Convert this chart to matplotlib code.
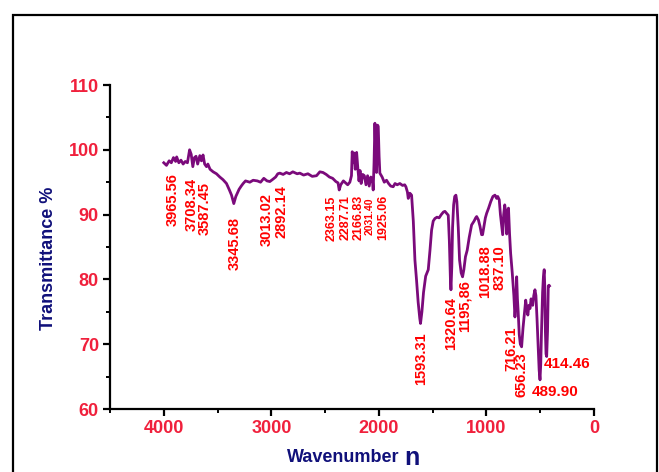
import matplotlib
matplotlib.use("Agg")
import matplotlib.pyplot as plt
from matplotlib.patches import Rectangle
from matplotlib.ticker import MultipleLocator

plt.rcParams['font.family'] = ['Liberation Sans', 'DejaVu Sans']

# FTIR spectrum (wavenumber cm-1, transmittance %)
wavenumber = [
    4000, 3975, 3950, 3930, 3910, 3890, 3880, 3860, 3840, 3820, 3800, 3780, 3760, 3745,
    3730, 3715, 3700, 3685, 3665, 3650, 3635, 3620, 3603, 3590, 3570, 3541, 3510, 3479,
    3450, 3417, 3390, 3370, 3349, 3330, 3300, 3280, 3262, 3240, 3200, 3169, 3130, 3100,
    3070, 3040, 3014, 2990, 2960, 2940, 2921, 2890, 2860, 2830, 2800, 2760, 2735, 2700,
    2660, 2620, 2580, 2549, 2520, 2490, 2460, 2430, 2400, 2380, 2369, 2355, 2330, 2310,
    2290, 2270, 2255, 2248, 2240, 2230, 2220, 2207, 2195, 2185, 2175, 2165, 2150, 2135,
    2120, 2105, 2090, 2075, 2060, 2053, 2045, 2037, 2030, 2022, 2012, 2006, 1998, 1991,
    1970, 1950, 1929, 1910, 1890, 1867, 1850, 1830, 1805, 1780, 1760, 1749, 1735, 1727,
    1712, 1696, 1680, 1665, 1650, 1635, 1620, 1613, 1600, 1585, 1565, 1541, 1525, 1510,
    1495, 1479, 1460, 1440, 1420, 1400, 1386, 1370, 1355, 1345, 1335, 1330, 1322, 1315,
    1305, 1295, 1284, 1275, 1262, 1250, 1235, 1222, 1210, 1195, 1179, 1160, 1138, 1115,
    1100, 1091, 1075, 1060, 1045, 1036, 1025, 1010, 998, 980, 960, 940, 921, 905, 895,
    881, 870, 860, 849, 840, 830, 822, 812, 805, 795, 785, 775, 760, 745, 735, 728, 719,
    712, 705, 695, 685, 673, 660, 645, 635, 625, 615, 605, 595, 585, 570, 560, 549, 540,
    530, 520, 510, 502, 495, 488, 478, 470, 463, 458, 452, 446, 440, 432, 425, 418, 414,
]
transmittance = [
    98.0, 97.6, 98.3, 98.0, 98.8, 98.2, 98.9, 98.0, 98.4, 97.8, 98.2, 98.0, 100.0, 99.3,
    97.4, 98.8, 99.0, 97.8, 99.1, 98.3, 99.2, 97.8, 97.4, 97.8, 97.0, 96.6, 96.3, 95.8,
    95.4, 94.8, 93.8, 93.0, 91.7, 92.8, 93.9, 94.4, 94.8, 95.2, 95.0, 95.3, 95.2, 95.0,
    95.6, 95.2, 95.1, 95.4, 95.8, 96.3, 96.4, 96.2, 96.5, 96.3, 96.6, 96.3, 96.4, 96.1,
    96.3, 95.9, 96.0, 96.6, 96.5, 96.2, 95.8, 95.6, 95.1, 94.9, 93.8, 94.6, 95.2, 94.9,
    94.6, 95.0, 96.0, 99.7, 98.0, 99.5, 97.0, 99.6, 97.0, 95.2, 96.8, 94.8, 96.2, 96.0,
    94.6, 96.0, 94.4, 95.8, 95.4, 93.8, 98.0, 104.1, 100.0, 96.5, 103.8, 103.6, 99.0, 96.4,
    95.8, 95.0, 95.3, 94.8, 94.4, 94.3, 94.8, 94.6, 94.8, 94.5, 94.6, 94.3, 93.5, 92.5,
    93.3, 93.0, 89.0, 83.0, 79.9, 76.5, 74.0, 73.2, 75.0, 78.0, 80.5, 81.5, 84.5, 87.6,
    89.0, 89.4, 89.6, 89.5, 90.0, 90.4, 90.5, 90.2, 89.9, 86.0, 80.0, 78.4, 82.0, 88.0,
    91.5, 92.8, 93.0, 92.0, 88.0, 83.0, 81.0, 80.4, 81.5, 83.5, 84.5, 86.5, 88.4, 89.0,
    89.5, 89.7, 89.2, 88.2, 86.9, 86.9, 88.0, 89.5, 90.2, 91.0, 92.0, 92.8, 93.0, 92.5, 92.8,
    92.3, 90.0, 88.5, 86.9, 90.0, 91.5, 90.5, 87.0, 90.5, 91.0, 87.0, 84.0, 81.0, 77.5, 74.2, 76.0, 80.4,
    77.0, 75.0, 71.5, 70.0, 69.6, 72.5, 75.0, 76.8, 75.5, 74.5, 76.0, 75.5, 77.0, 76.0, 77.5, 78.4, 77.5,
    74.0, 70.0, 66.0, 64.5, 67.0, 72.0, 78.0, 80.5, 81.5, 79.0, 72.0, 68.5, 68.1, 72.0, 79.0, 79.1, 79.0,
]

# peak labels: text, x, y (top of the rotated text), font size
peak_text = ["3965.56", "3708.34", "3587.45", "3345.68", "3013.02", "2892.14",
             "2363.15", "2287.71", "2166.83", "2031.40", "1925.06", "1593.31",
             "1320.64", "1195,86", "1018.88", "837.10", "716.21", "656.23"]
peak_x = [3916, 3742, 3619, 3340, 3042, 2902, 2437, 2307, 2186, 2084, 1963, 1603,
          1324, 1200, 1014, 874, 768, 673]
peak_y = [96.4, 95.6, 95.0, 89.6, 93.3, 94.6, 93.0, 93.0, 93.0, 92.7, 93.0, 71.9,
          77.3, 79.9, 85.3, 85.3, 72.8, 68.8]
peak_fs = [10.5, 10.5, 10.5, 10.5, 10.5, 10.5, 9, 9, 9, 7.5, 9, 10.5,
           10.5, 10.5, 10.5, 10.5, 10.5, 10.5]

# horizontal labels near the end of the spectrum
flat_text = ["489.90", "414.46"]
flat_x = [577, 468]
flat_y = [62.7, 67.0]

tick_red = "#f0203c"
navy = "#10107a"

fig = plt.figure(figsize=(6.59, 4.72), dpi=100)
ax = fig.add_axes([110 / 659, 1 - 409 / 472, 484 / 659, 324 / 472])

ax.plot(wavenumber, transmittance, color="#7b0a7b", lw=2.0)

for t, x, y, fs in zip(peak_text, peak_x, peak_y, peak_fs):
    ax.text(x, y, t, rotation=90, ha="center", va="top", color="red",
            fontsize=fs, fontweight="bold")
for t, x, y in zip(flat_text, flat_x, flat_y):
    ax.text(x, y, t, ha="left", va="center", color="red", fontsize=11, fontweight="bold")

ax.set_xlim(4500, 0)
ax.set_ylim(60, 110)
ax.xaxis.set_major_locator(MultipleLocator(1000))
ax.xaxis.set_minor_locator(MultipleLocator(500))
ax.yaxis.set_major_locator(MultipleLocator(10))
ax.yaxis.set_minor_locator(MultipleLocator(5))

for side in ["top", "right"]:
    ax.spines[side].set_visible(False)
for side in ["left", "bottom"]:
    ax.spines[side].set_linewidth(1.6)

ax.tick_params(which="major", direction="out", length=5, width=1.6,
               labelsize=13, labelcolor=tick_red, pad=3)
ax.tick_params(which="minor", direction="out", length=3, width=1.4)
for lab in ax.get_xticklabels() + ax.get_yticklabels():
    lab.set_fontweight("bold")

ax.set_ylabel("Transmittance %", color=navy, fontsize=13, fontweight="bold",
              va="center")
ax.yaxis.set_label_coords(-0.128, 0.466)
fig.text(0.435, 1 - 458 / 472, "Wavenumber", color=navy, fontsize=13,
         fontweight="bold", ha="left", va="center")
fig.text(0.614, 1 - 458 / 472, "n", color=navy, fontsize=18,
         fontweight="bold", ha="left", va="center")

# outer frame, open at the bottom edge
fig.patches.append(Rectangle((13 / 659, -0.1), 644 / 659, 1.1 - 15 / 472,
                             transform=fig.transFigure, fill=False,
                             edgecolor="black", lw=1.6))

fig.savefig("out.png", dpi=100)
